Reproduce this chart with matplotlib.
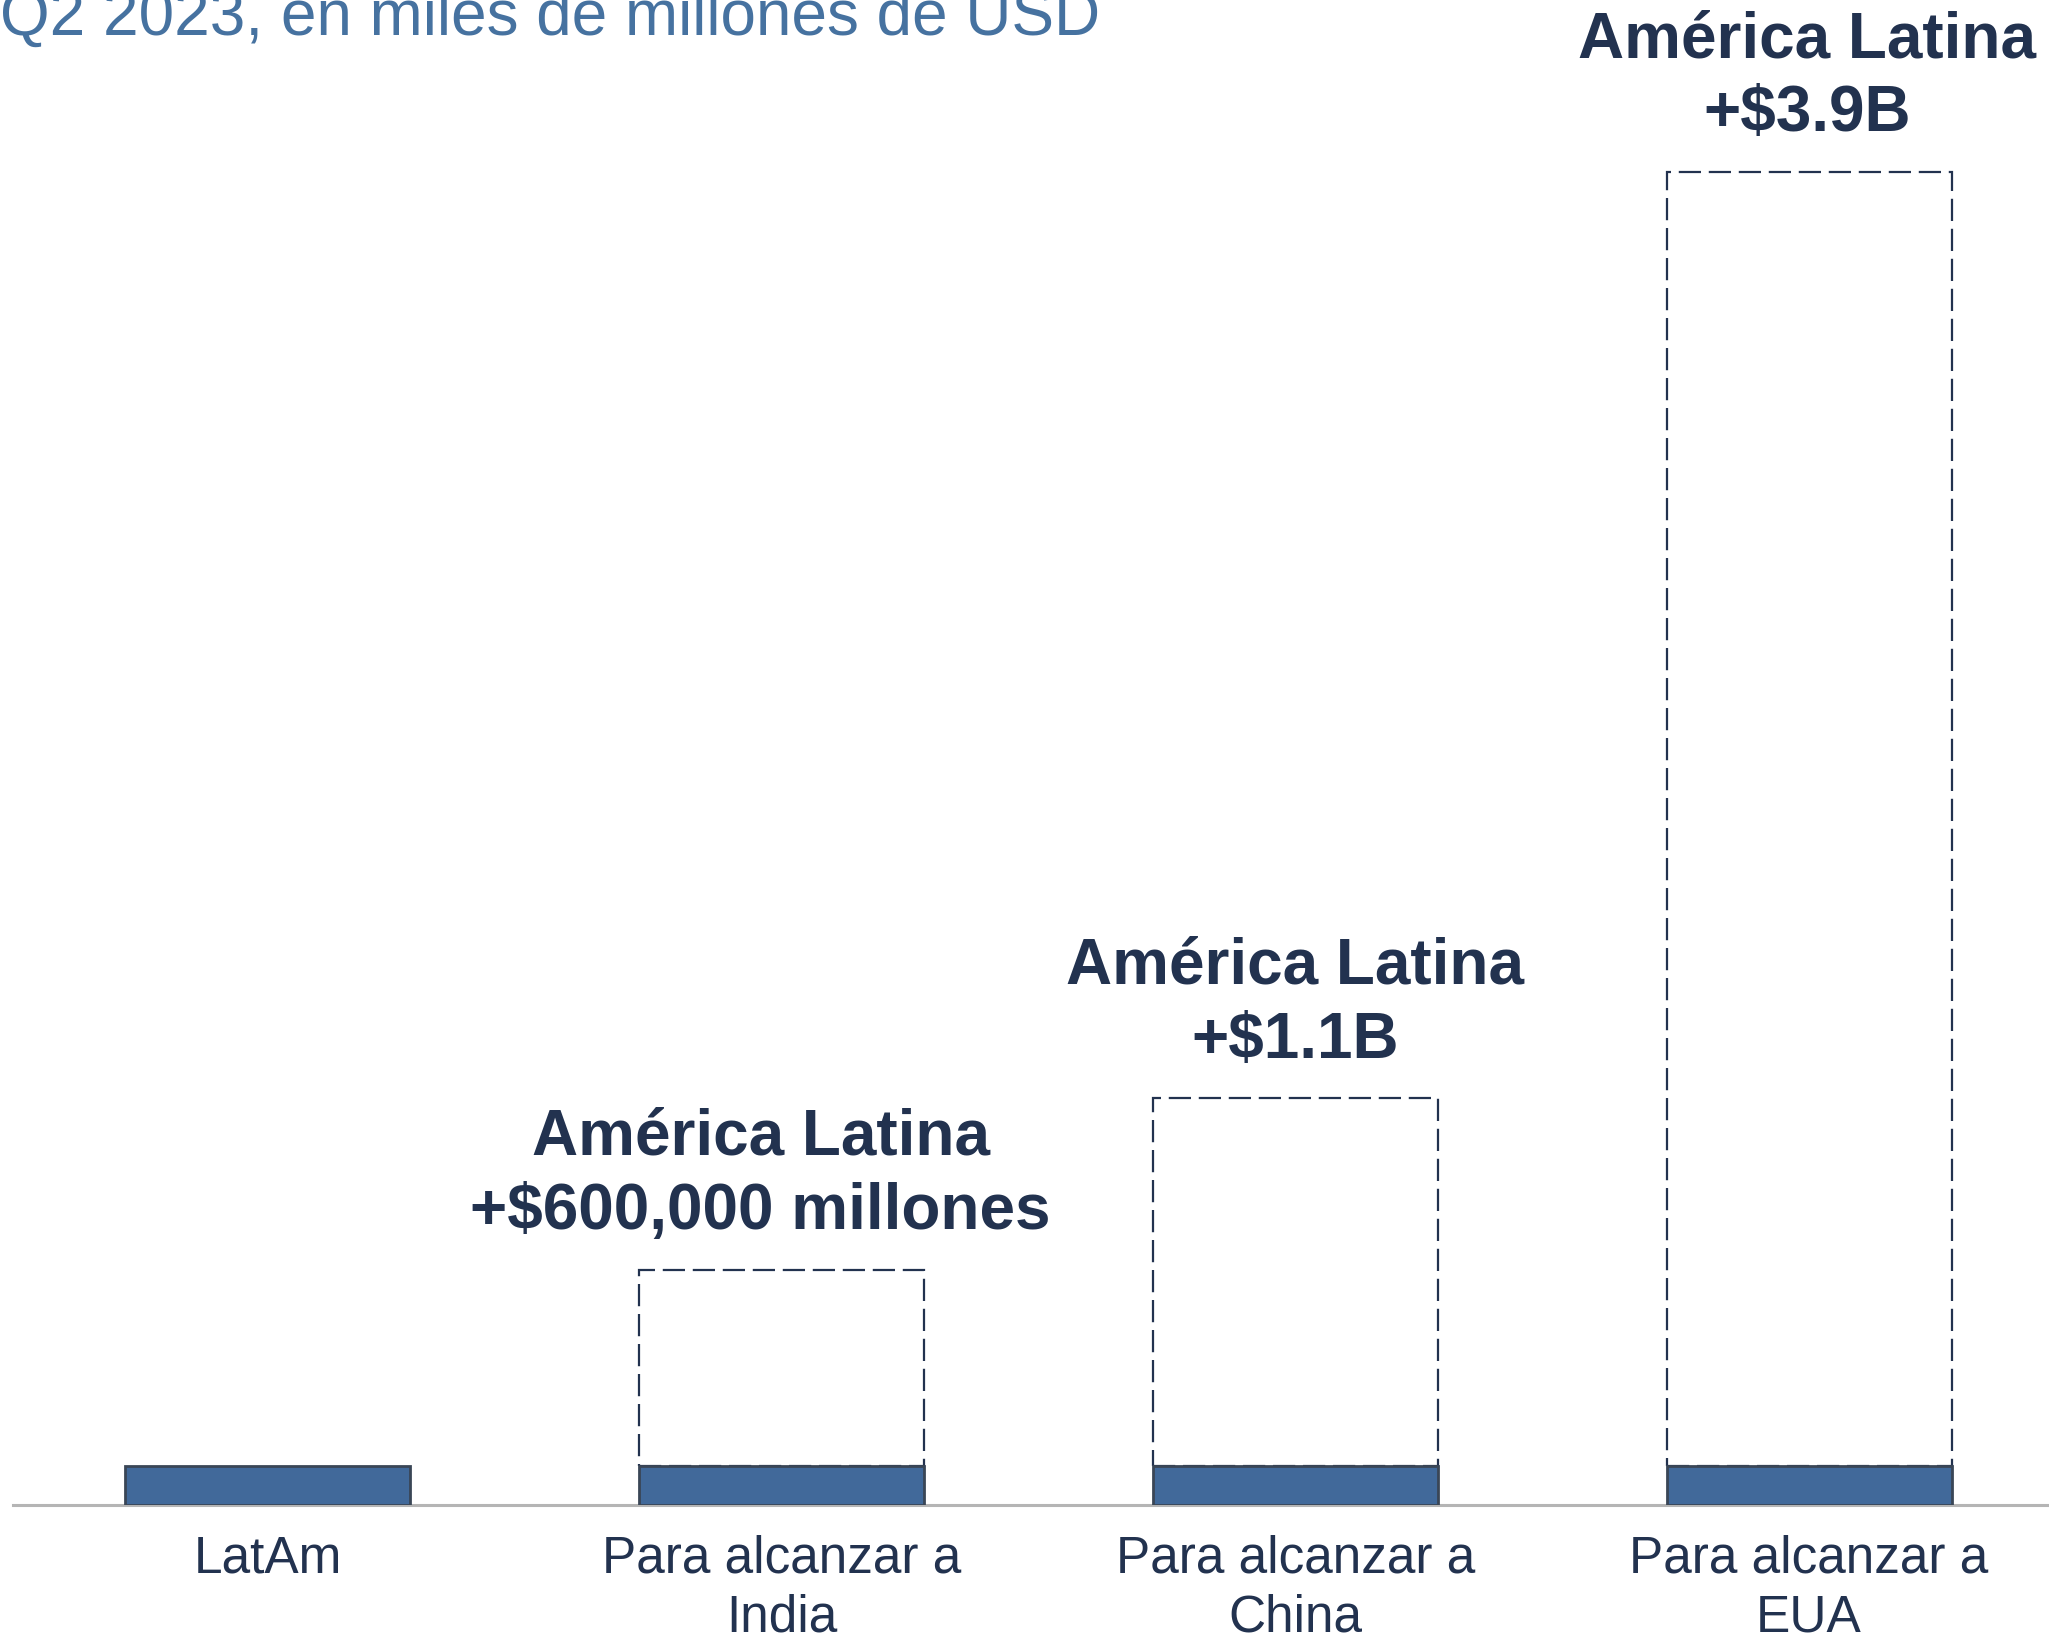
import matplotlib.pyplot as plt

plt.rcParams['font.family'] = ['Liberation Sans', 'DejaVu Sans']

# Data (miles de millones de USD)
categories = ['LatAm', 'Para alcanzar a\nIndia', 'Para alcanzar a\nChina', 'Para alcanzar a\nEUA']
latam_value = [120, 120, 120, 120]
target_total = [None, 720, 1245, 4080]
gap_labels = [None, 'América Latina\n+$600,000 millones', 'América Latina\n+$1.1B', 'América Latina\n+$3.9B']
title_text = 'Q2 2023, en miles de millones de USD'

navy = '#22324f'
blue = '#41699a'

fig = plt.figure(figsize=(20.49, 16.44), dpi=100)
ax = fig.add_axes([13 / 2049, 1 - 1505 / 1644, 1 - 13 / 2049, 1505 / 1644])

x = list(range(len(categories)))
width = 0.555

# Dashed outline showing the gap to each target
for i in x:
    if target_total[i] is None:
        continue
    ax.bar(i, target_total[i] - latam_value[i], bottom=latam_value[i], width=width,
           fill=False, edgecolor=navy, linewidth=1.6, linestyle=(0, (10, 3.5)), zorder=2)

# LatAm actual value
ax.bar(x, latam_value, width=width, color=blue, edgecolor='#3a4656', linewidth=2, zorder=3)

# Annotations above the dashed boxes
label_dx = [0, -21, 0, -2]
for i in x:
    if gap_labels[i] is None:
        continue
    ax.annotate(gap_labels[i], xy=(i, target_total[i]), xytext=(label_dx[i] * 0.72, 20),
                textcoords='offset points', ha='center', va='bottom',
                fontsize=46, fontweight='bold', color=navy, linespacing=1.3,
                annotation_clip=False)

ax.set_xlim(-0.496, 3.467)
ax.set_ylim(0, 4607)
ax.set_xticks(x)
ax.set_xticklabels(categories, fontsize=37, color=navy, linespacing=1.27)
ax.tick_params(axis='x', length=0, pad=21)
ax.set_yticks([])
for side in ['top', 'left', 'right']:
    ax.spines[side].set_visible(False)
ax.spines['bottom'].set_color('#b5b5b5')
ax.spines['bottom'].set_linewidth(2.2)
ax.patch.set_alpha(0)

# Title sits partly above the top edge, as in the source
fig.text(0.0, 1 - 35 / 1644, title_text, fontsize=46, color='#4672a0',
         ha='left', va='baseline')

plt.savefig('out.png', dpi=100)
